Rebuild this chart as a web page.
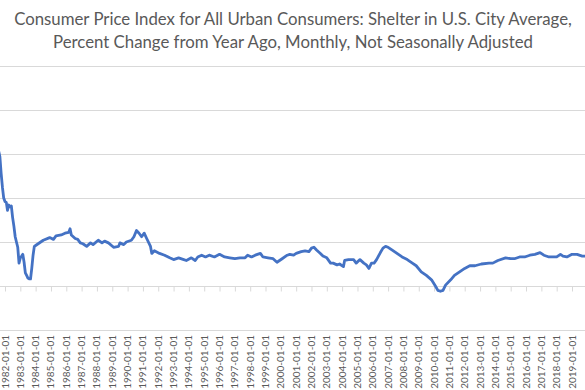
<!DOCTYPE html>
<html>
<head>
<meta charset="utf-8">
<script src="https://cdn.jsdelivr.net/npm/d3@7"></script>
<style>
  body { margin: 0; background: #fff; }
  svg { display: block; }
</style>
</head>
<body>
<svg id="chart"></svg>
<script>
const titleLines = [
  'Consumer Price Index for All Urban Consumers: Shelter in U.S. City Average,',
  'Percent Change from Year Ago, Monthly, Not Seasonally Adjusted'
];

// month of observation and percent change from a year ago
const months = [
  '1981-07', '1981-09', '1981-10', '1981-11', '1981-12', '1982-01', '1982-02', '1982-03',
  '1982-04', '1982-05', '1982-06', '1982-07', '1982-08', '1982-09', '1982-10', '1982-11',
  '1982-12', '1983-01', '1983-02', '1983-03', '1983-04', '1983-05', '1983-06', '1983-07',
  '1983-08', '1983-09', '1983-10', '1983-11', '1983-12', '1984-01', '1984-03', '1984-07',
  '1984-12', '1985-03', '1985-05', '1985-09', '1985-12', '1986-03', '1986-04', '1986-05',
  '1986-08', '1986-10', '1986-12', '1987-02', '1987-05', '1987-08', '1987-10', '1988-02',
  '1988-05', '1988-07', '1988-10', '1989-02', '1989-06', '1989-07', '1989-10', '1989-12',
  '1990-04', '1990-06', '1990-08', '1990-10', '1990-12', '1991-02', '1991-04', '1991-07',
  '1991-08', '1991-10', '1992-02', '1992-06', '1992-10', '1993-01', '1993-05', '1993-09',
  '1993-11', '1994-03', '1994-06', '1994-08', '1994-11', '1995-02', '1995-05', '1995-09',
  '1996-01', '1996-05', '1996-09', '1997-01', '1997-05', '1997-09', '1997-11', '1998-02',
  '1998-05', '1998-09', '1998-11', '1999-03', '1999-07', '1999-10', '2000-02', '2000-06',
  '2000-08', '2000-11', '2001-01', '2001-05', '2001-08', '2001-11', '2002-01', '2002-03',
  '2002-05', '2002-08', '2002-10', '2003-01', '2003-04', '2003-06', '2003-09', '2003-11',
  '2004-02', '2004-03', '2004-06', '2004-10', '2004-12', '2005-03', '2005-06', '2005-08',
  '2005-10', '2005-12', '2006-02', '2006-04', '2006-07', '2006-09', '2006-11', '2007-01',
  '2007-04', '2007-08', '2007-12', '2008-04', '2008-08', '2008-11', '2009-03', '2009-07',
  '2009-11', '2010-02', '2010-04', '2010-06', '2010-08', '2010-10', '2011-02', '2011-05',
  '2011-09', '2012-01', '2012-05', '2012-09', '2013-02', '2013-08', '2013-11', '2014-03',
  '2014-09', '2015-01', '2015-04', '2015-08', '2015-12', '2016-04', '2016-08', '2016-12',
  '2017-03', '2017-07', '2017-10', '2018-01', '2018-04', '2018-06', '2018-09', '2019-01',
  '2019-05', '2019-09', '2019-11', '2020-02'
];

const shelterYoY = [
  16.0, 14.7, 12.8, 11.2, 10.0, 9.6, 9.5, 8.6,
  9.2, 9.0, 9.1, 7.8, 6.8, 5.6, 5.0, 4.4,
  2.6, 3.2, 3.4, 3.6, 2.7, 1.5, 1.2, 0.9,
  0.8, 0.8, 2.0, 3.5, 4.5, 4.6, 4.8, 5.2,
  5.5, 5.3, 5.7, 5.8, 6.0, 6.1, 6.5, 5.8,
  5.4, 5.3, 4.9, 4.8, 4.5, 4.9, 4.7, 5.2,
  4.9, 5.1, 4.9, 4.4, 4.5, 4.9, 4.7, 5.0,
  5.2, 5.6, 6.3, 6.0, 5.6, 6.0, 5.4, 4.5,
  3.7, 4.0, 3.7, 3.5, 3.2, 3.0, 3.2, 3.0,
  2.9, 3.2, 2.9, 3.3, 3.5, 3.3, 3.5, 3.3,
  3.6, 3.3, 3.2, 3.1, 3.2, 3.2, 3.5, 3.3,
  3.5, 3.7, 3.3, 3.2, 3.1, 2.7, 3.1, 3.5,
  3.6, 3.5, 3.7, 3.9, 4.0, 3.9, 4.3, 4.4,
  4.1, 3.7, 3.4, 3.2, 2.6, 2.6, 2.4, 2.5,
  2.2, 2.9, 3.0, 3.0, 2.6, 3.0, 2.6, 2.4,
  2.0, 2.6, 2.6, 3.0, 3.8, 4.3, 4.5, 4.4,
  4.1, 3.7, 3.3, 3.0, 2.6, 2.3, 1.6, 1.2,
  0.7, 0.0, -0.5, -0.6, -0.5, 0.1, 0.7, 1.2,
  1.6, 2.0, 2.3, 2.3, 2.5, 2.6, 2.6, 2.9,
  3.2, 3.1, 3.1, 3.3, 3.3, 3.5, 3.6, 3.8,
  3.5, 3.3, 3.3, 3.3, 3.6, 3.4, 3.3, 3.6,
  3.6, 3.4, 3.4, 3.3
];

const yTicks = [-5, 0, 5, 10, 15, 20, 25];

// category labels visible in the cropped view (one per January)
const xTickLabels = [
  '1982-01-01', '1983-01-01', '1984-01-01', '1985-01-01', '1986-01-01',
  '1987-01-01', '1988-01-01', '1989-01-01', '1990-01-01', '1991-01-01', '1992-01-01',
  '1993-01-01', '1994-01-01', '1995-01-01', '1996-01-01', '1997-01-01', '1998-01-01',
  '1999-01-01', '2000-01-01', '2001-01-01', '2002-01-01', '2003-01-01', '2004-01-01',
  '2005-01-01', '2006-01-01', '2007-01-01', '2008-01-01', '2009-01-01', '2010-01-01',
  '2011-01-01', '2012-01-01', '2013-01-01', '2014-01-01', '2015-01-01', '2016-01-01',
  '2017-01-01', '2018-01-01', '2019-01-01'
];

const width = 585;
const height = 390;
const font = 'Lato, "Open Sans", sans-serif';
const textColor = '#595959';
const gridColor = '#d9d9d9';

const parseMonth = d3.timeParse('%Y-%m');
const parseDay = d3.timeParse('%Y-%m-%d');

const data = months.map((m, i) => ({ date: parseMonth(m), val: shelterYoY[i] }));

const xScale = d3
  .scaleTime()
  .domain([parseDay('1982-01-01'), parseDay('2019-01-01')])
  .range([5, 572]);

const yScale = d3
  .scaleLinear()
  .domain([-5, 25])
  .range([330, 66]);

const svg = d3
  .select('#chart')
  .attr('width', width)
  .attr('height', height)
  .style('font-family', font);

// title
svg
  .append('g')
  .selectAll('text')
  .data(titleLines)
  .join('text')
  .attr('x', 293)
  .attr('y', (d, i) => 25 + i * 23)
  .attr('text-anchor', 'middle')
  .style('font-size', '16.8px')
  .style('fill', textColor)
  .text(d => d);

// gridlines
svg
  .append('g')
  .selectAll('line')
  .data(yTicks)
  .join('line')
  .attr('x1', 0)
  .attr('x2', width)
  .attr('y1', d => Math.round(yScale(d)) + 0.5)
  .attr('y2', d => Math.round(yScale(d)) + 0.5)
  .attr('stroke', gridColor)
  .attr('stroke-width', 1);

// category axis crossing at zero, labels low
const xAxis = d3
  .axisBottom(xScale)
  .tickValues(xTickLabels.map(parseDay).concat([parseDay('2020-01-01')]))
  .tickFormat('')
  .tickSize(5)
  .tickSizeOuter(0);

const axisG = svg
  .append('g')
  .attr('transform', `translate(0, ${Math.round(yScale(0)) + 0.5})`)
  .call(xAxis);

axisG.select('.domain').remove();
axisG.selectAll('.tick line').attr('stroke', gridColor);

svg
  .append('g')
  .selectAll('text')
  .data(xTickLabels)
  .join('text')
  .attr('transform', d => `translate(${xScale(parseDay(d)) + 3.5}, 335) rotate(-90)`)
  .attr('text-anchor', 'end')
  .style('font-size', '10px')
  .style('fill', textColor)
  .text(d => d);

// series
const lineFunc = d3
  .line()
  .x(d => xScale(d.date))
  .y(d => yScale(d.val));

svg
  .append('path')
  .datum(data)
  .attr('fill', 'none')
  .attr('stroke', '#4472c4')
  .attr('stroke-width', 2.8)
  .attr('stroke-linejoin', 'round')
  .attr('d', lineFunc);
</script>
</body>
</html>
